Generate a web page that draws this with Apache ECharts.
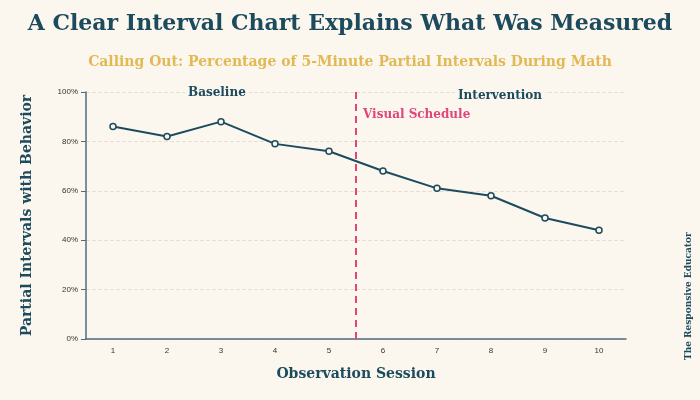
<!DOCTYPE html>
<html>
<head>
<meta charset="utf-8">
<script src="https://cdn.jsdelivr.net/npm/echarts@6/dist/echarts.min.js"></script>
<style>html,body{margin:0;background:#fbf7ef;}#main{width:700px;height:400px;}</style>
</head>
<body>
<div id="main"></div>
<script>
var sessions = [1, 2, 3, 4, 5, 6, 7, 8, 9, 10];
var percent = [86, 82, 88, 79, 76, 68, 61, 58, 49, 44];
var phaseChange = 5.5;

var dark = '#1d4b5e';
var serif = '"DejaVu Serif", "Liberation Serif", serif';
var chart = echarts.init(document.getElementById('main'));

var points = [];
for (var i = 0; i < sessions.length; i++) {
    points.push([sessions[i], percent[i]]);
}

var option = {
    backgroundColor: '#fbf7ef',
    title: [
        {text: 'A Clear Interval Chart Explains What Was Measured', left: 'center', top: 8,
         textStyle: {fontFamily: serif, fontSize: 22, fontWeight: 'bold', color: dark}},
        {text: 'Calling Out: Percentage of 5-Minute Partial Intervals During Math', left: 'center', top: 50,
         textStyle: {fontFamily: serif, fontSize: 14, fontWeight: 'bold', color: '#e2b955'}}
    ],
    grid: {left: 86, right: 74, top: 92, bottom: 61},
    xAxis: {
        type: 'value', min: 0.5, max: 10.5, interval: 0.5,
        name: 'Observation Session', nameLocation: 'middle', nameGap: 28,
        nameTextStyle: {fontFamily: serif, fontSize: 14, fontWeight: 'bold', color: dark},
        splitLine: {show: false},
        axisTick: {show: false},
        axisLine: {lineStyle: {color: '#4a6f7c', width: 1.5}},
        axisLabel: {fontSize: 8, color: '#333', formatter: function (v) {
            return v % 1 === 0 ? String(v) : '';
        }}
    },
    yAxis: {
        type: 'value', min: 0, max: 100, interval: 20,
        name: 'Partial Intervals with Behavior', nameLocation: 'middle', nameGap: 52,
        nameTextStyle: {fontFamily: serif, fontSize: 14, fontWeight: 'bold', color: dark},
        axisLine: {show: true, lineStyle: {color: '#4a6f7c', width: 1.5}},
        axisLabel: {fontSize: 8, color: '#333', formatter: '{value}%'},
        splitLine: {lineStyle: {color: '#e6e0d4', type: 'dashed'}}
    },
    series: [{
        type: 'line',
        data: points,
        symbol: 'circle', symbolSize: 6,
        lineStyle: {color: dark, width: 2},
        itemStyle: {color: '#fbf7ef', borderColor: dark, borderWidth: 1.5},
        markLine: {
            silent: true, symbol: 'none', label: {show: false},
            lineStyle: {color: '#e0457b', type: [7, 5], width: 2},
            data: [{xAxis: phaseChange}]
        }
    }],
    graphic: [
        {type: 'text', left: 185, top: 87, z: 100, style: {text: 'Baseline', font: 'bold 12px ' + serif, fill: dark, backgroundColor: '#fbf7ef', padding: [0, 3]}},
        {type: 'text', left: 455, top: 90, z: 100, style: {text: 'Intervention', font: 'bold 12px ' + serif, fill: dark, backgroundColor: '#fbf7ef', padding: [0, 3]}},
        {type: 'text', left: 363, top: 109, z: 100, style: {text: 'Visual Schedule', font: 'bold 12px ' + serif, fill: '#e0457b'}},
        {type: 'text', x: 689, y: 360, rotation: Math.PI / 2,
         style: {text: 'The Responsive Educator', font: 'bold 9px ' + serif, fill: dark, align: 'left', verticalAlign: 'middle'}}
    ]
};

chart.setOption(option);
</script>
</body>
</html>
